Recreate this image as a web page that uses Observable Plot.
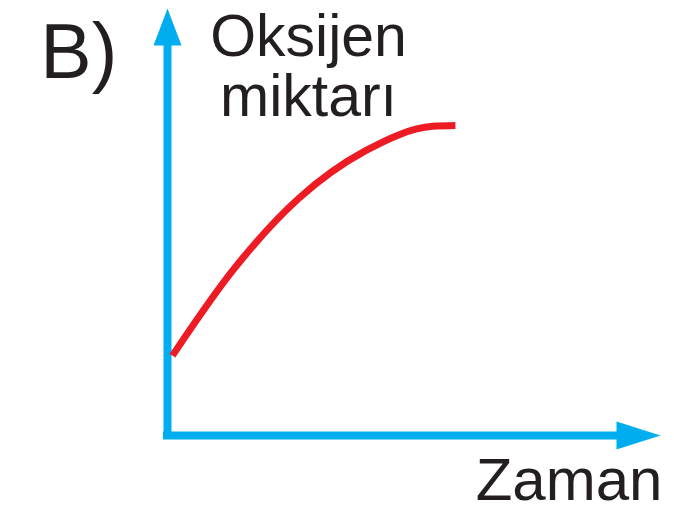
<!DOCTYPE html>
<html>
<head>
<meta charset="utf-8">
<script src="https://cdn.jsdelivr.net/npm/d3@7"></script>
<script src="https://cdn.jsdelivr.net/npm/@observablehq/plot@0.6"></script>
<style>
  html, body { margin: 0; padding: 0; background: #fff; }
  #chart svg { display: block; }
</style>
</head>
<body>
<div id="chart"></div>
<script>
// Curve data (time vs oxygen amount, arbitrary units)
const zaman = [1, 13.2, 26.6, 40.2, 53.8, 58.4];
const oksijen = [18.7, 38.6, 55.5, 66.7, 72.4, 72.6];

// Labels
const panelLabel = "B)";
const yLabelLines = ["Oksijen", "miktarı"];
const xLabel = "Zaman";

const curve = zaman.map((t, i) => ({t, o: oksijen[i]}));

const blue = "#00aeef";
const red = "#ed1c24";
const ink = "#231f20";

const head = (len, half) => ({
  draw(ctx) {
    ctx.moveTo(0, 0);
    ctx.lineTo(half, len);
    ctx.lineTo(-half, len);
    ctx.closePath();
  }
});

const chart = Plot.plot({
  width: 674,
  height: 515,
  marginLeft: 167,
  marginRight: 14,
  marginTop: 8,
  marginBottom: 80,
  x: {domain: [0, 100], axis: null},
  y: {domain: [0, 100], axis: null},
  style: {background: "#fff", fontFamily: "'Liberation Sans', Arial, sans-serif"},
  marks: [
    // axes lines
    Plot.ruleX([0], {y1: 0, y2: 93, stroke: blue, strokeWidth: 8, strokeLinecap: "square"}),
    Plot.ruleY([0], {x1: 0, x2: 93, stroke: blue, strokeWidth: 8, strokeLinecap: "square"}),
    // arrowheads
    Plot.dot([{x: 0, y: 100}], {x: "x", y: "y", symbol: head(37, 14), fill: blue, stroke: null}),
    Plot.dot([{x: 100, y: 0}], {x: "x", y: "y", symbol: head(44, 14), rotate: 90, fill: blue, stroke: null}),
    // curve
    Plot.line(curve, {x: "t", y: "o", curve: "monotone-x", stroke: red, strokeWidth: 7, strokeLinecap: "butt"}),
    // texts
    Plot.text([panelLabel], {x: -25.8, y: 83.8, text: d => d, fontSize: 77, fill: ink, textAnchor: "start", lineAnchor: "bottom"}),
    Plot.text([yLabelLines[0]], {x: 28.6, y: 88.8, text: d => d, fontSize: 59, fill: ink, textAnchor: "middle", lineAnchor: "bottom"}),
    Plot.text([yLabelLines[1]], {x: 28.6, y: 74.9, text: d => d, fontSize: 59, fill: ink, textAnchor: "middle", lineAnchor: "bottom"}),
    Plot.text([xLabel], {x: 62.5, y: -15.0, text: d => d, fontSize: 60, fill: ink, textAnchor: "start", lineAnchor: "bottom"})
  ]
});
document.getElementById("chart").appendChild(chart);
</script>
</body>
</html>
